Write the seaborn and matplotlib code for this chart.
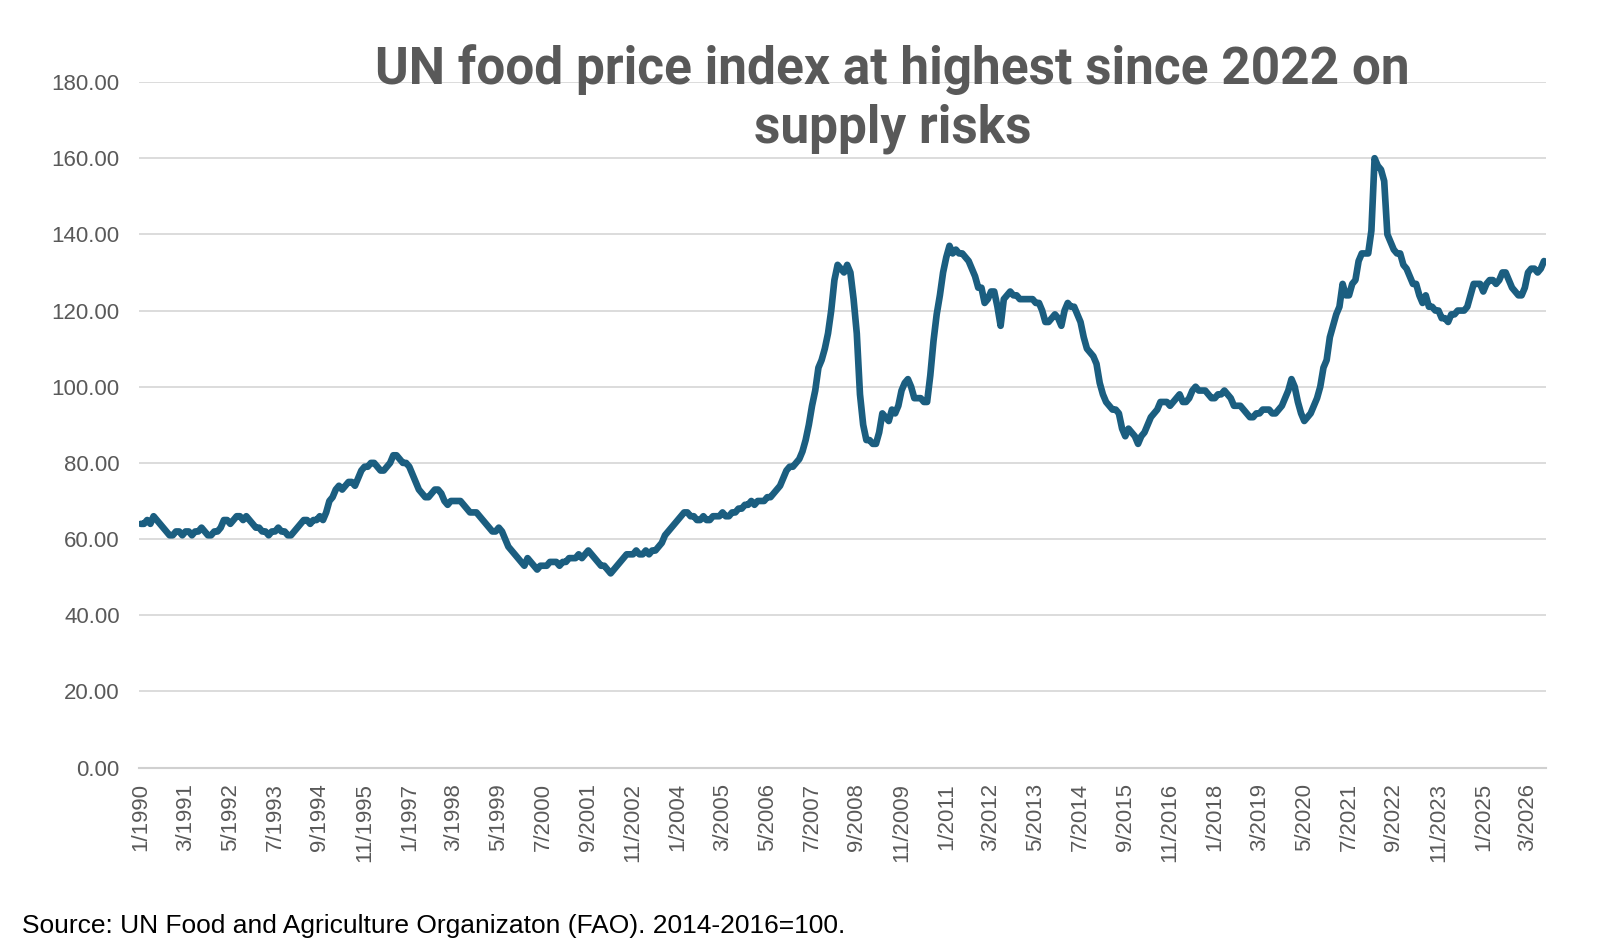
import matplotlib
matplotlib.use("Agg")
import matplotlib.pyplot as plt
import seaborn as sns
import numpy as np
import pandas as pd

y1990 = [64,64,65,64,66,65,64,63,62,61,61,62]
y1991 = [62,61,62,62,61,62,62,63,62,61,61,62]
y1992 = [62,63,65,65,64,65,66,66,65,66,65,64]
y1993 = [63,63,62,62,61,62,62,63,62,62,61,61]
y1994 = [62,63,64,65,65,64,65,65,66,65,67,70]
y1995 = [71,73,74,73,74,75,75,74,76,78,79,79]
y1996 = [80,80,79,78,78,79,80,82,82,81,80,80]
y1997 = [79,77,75,73,72,71,71,72,73,73,72,70]
y1998 = [69,70,70,70,70,69,68,67,67,67,66,65]
y1999 = [64,63,62,62,63,62,60,58,57,56,55,54]
y2000 = [53,55,54,53,52,53,53,53,54,54,54,53]
y2001 = [54,54,55,55,55,56,55,56,57,56,55,54]
y2002 = [53,53,52,51,52,53,54,55,56,56,56,57]
y2003 = [56,56,57,56,57,57,58,59,61,62,63,64]
y2004 = [65,66,67,67,66,66,65,65,66,65,65,66]
y2005 = [66,66,67,66,66,67,67,68,68,69,69,70]
y2006 = [69,70,70,70,71,71,72,73,74,76,78,79]
y2007 = [79,80,81,83,86,90,95,99,105,107,110,114]
y2008 = [120,128,132,131,130,132,130,123,114,98,90,86]
y2009 = [86,85,85,88,93,92,91,94,93,95,99,101]
y2010 = [102,100,97,97,97,96,96,103,112,119,124,130]
y2011 = [134,137,135,136,135,135,134,133,131,129,126,126]
y2012 = [122,123,125,125,121,116,123,124,125,124,124,123]
y2013 = [123,123,123,123,122,122,120,117,117,118,119,118]
y2014 = [116,120,122,121,121,119,117,113,110,109,108,106]
y2015 = [101,98,96,95,94,94,93,89,87,89,88,87]
y2016 = [85,87,88,90,92,93,94,96,96,96,95,96]
y2017 = [97,98,96,96,97,99,100,99,99,99,98,97]
y2018 = [97,98,98,99,98,97,95,95,95,94,93,92]
y2019 = [92,93,93,94,94,94,93,93,94,95,97,99]
y2020 = [102,100,96,93,91,92,93,95,97,100,105,107]
y2021 = [113,116,119,121,127,124,124,127,128,133,135,135]
y2022 = [135,141,160,158,157,154,140,138,136,135,135,132]
y2023 = [131,129,127,127,124,122,124,121,121,120,120,118]
y2024 = [118,117,119,119,120,120,120,121,124,127,127,127]
y2025 = [125,127,128,128,127,128,130,130,128,126,125,124]
y2026 = [124,126,130,131,131,130,131,133]

years = list(range(1990, 2027))
series = [y1990,y1991,y1992,y1993,y1994,y1995,y1996,y1997,y1998,y1999,y2000,y2001,
          y2002,y2003,y2004,y2005,y2006,y2007,y2008,y2009,y2010,y2011,y2012,y2013,
          y2014,y2015,y2016,y2017,y2018,y2019,y2020,y2021,y2022,y2023,y2024,y2025,y2026]
labels, values = [], []
for yr, vals in zip(years, series):
    for i, v in enumerate(vals):
        labels.append(f"{i+1}/{yr}")
        values.append(v)
df = pd.DataFrame({"idx": np.arange(len(values)), "value": values, "label": labels})

sns.set_theme(style="white")
plt.rcParams['font.family'] = ['Liberation Sans', 'DejaVu Sans']
fig = plt.figure(figsize=(16, 9.43), dpi=100)
ax = fig.add_axes([0.087, 0.186, 0.879, 0.727])
sns.lineplot(data=df, x="idx", y="value", ax=ax, color="#1b5e80", linewidth=4.8)
ax.set_xlim(-0.5, len(values) - 0.5)
ax.set_ylim(0, 180)
ax.set_yticks(np.arange(0, 181, 20))
ax.set_yticklabels([f"{v:.2f}" for v in np.arange(0, 181, 20)], fontsize=16, color="#595959")
tick_idx = list(range(0, len(values), 14))
ax.set_xticks(tick_idx)
ax.set_xticklabels([labels[i] for i in tick_idx], rotation=90, fontsize=16, color="#595959")
ax.grid(axis="y", color="#d9d9d9", linewidth=1.3)
for s in ["top", "right", "left"]:
    ax.spines[s].set_visible(False)
ax.spines["bottom"].set_color("#d0d0d0")
ax.spines["bottom"].set_linewidth(1.5)
ax.tick_params(axis="x", length=7, color="#d0d0d0", width=1.3, pad=4)
ax.tick_params(axis="y", length=0, pad=14)
ax.set_xlabel("")
ax.set_ylabel("")
fig.text(0.558, 0.895, "UN food price index at highest since 2022 on\nsupply risks",
         ha="center", va="center", fontsize=37, fontweight="bold", color="#595959",
         family=["Roboto", "DejaVu Sans"], linespacing=1.2)
fig.text(0.014, 0.018, "Source: UN Food and Agriculture Organizaton (FAO). 2014-2016=100.",
         fontsize=19, color="#000000", ha="left", va="center")
fig.savefig("out.png", dpi=100, facecolor="white")
